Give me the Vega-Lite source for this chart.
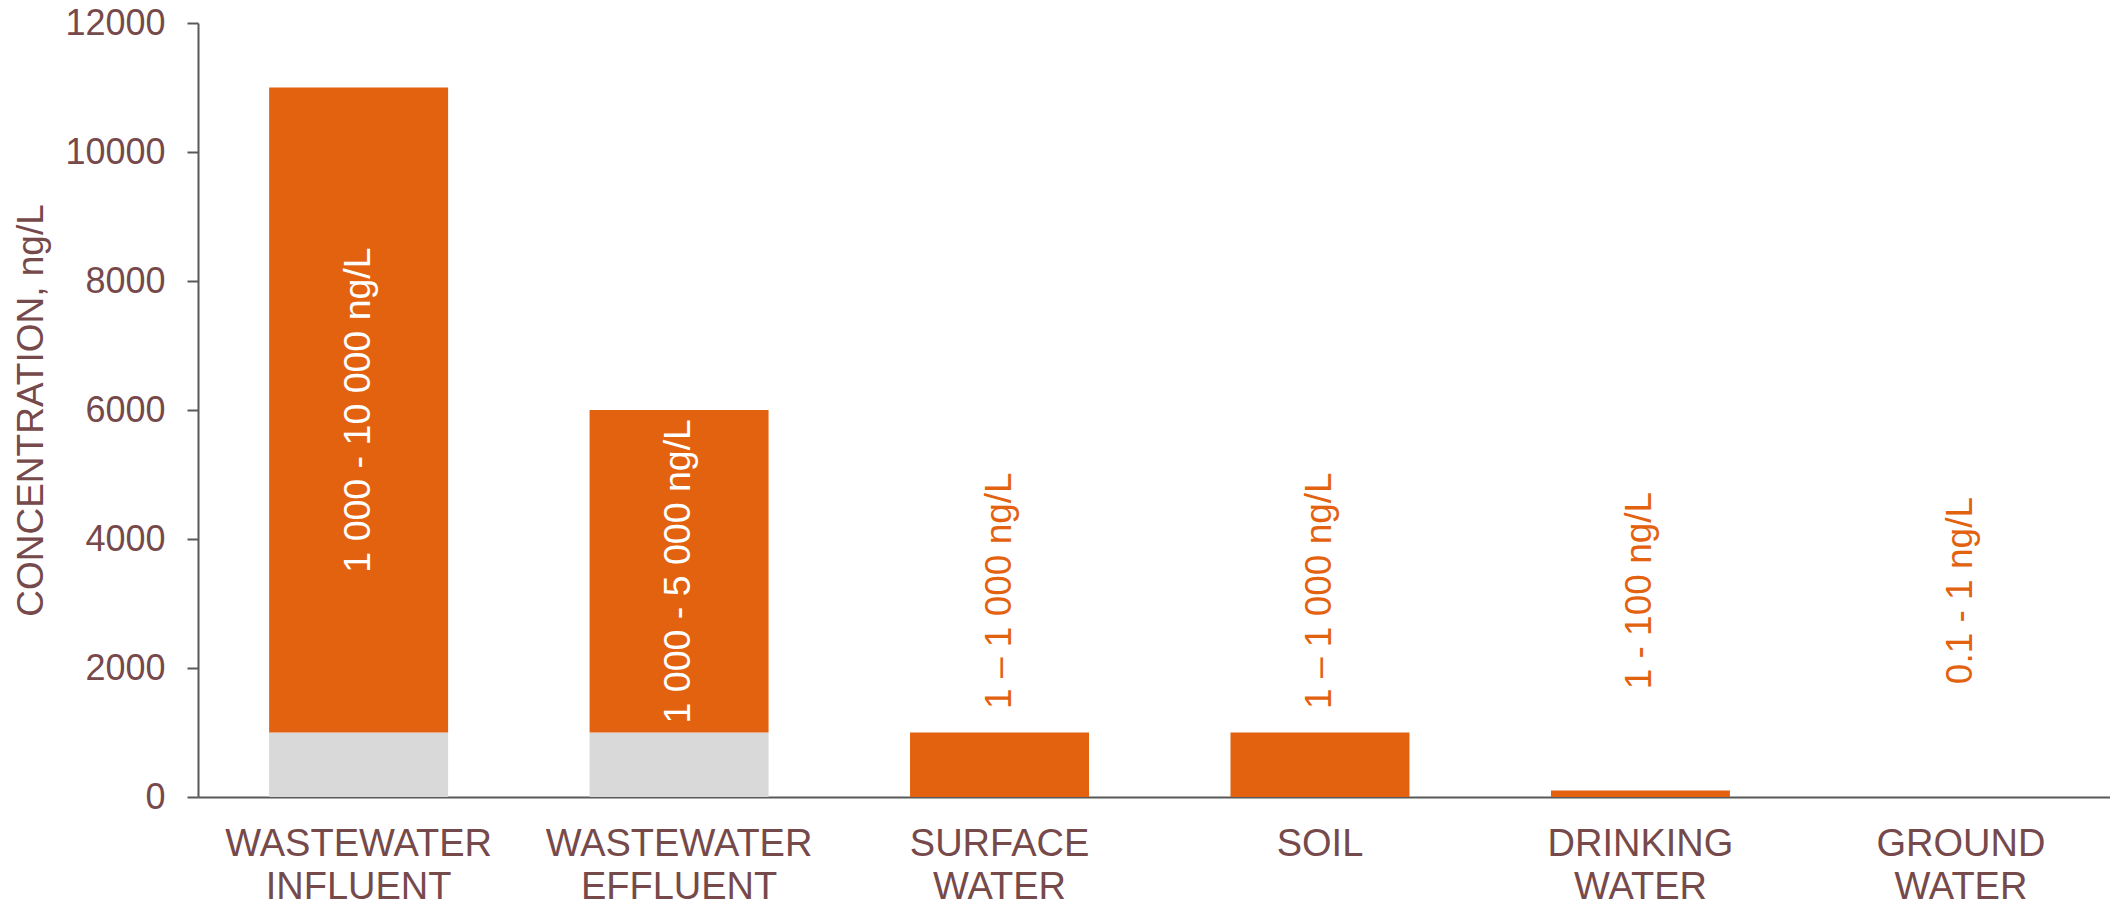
{
  "$schema": "https://vega.github.io/schema/vega-lite/v6.json",
  "width": 1912,
  "height": 774,
  "autosize": {"type": "none"},
  "padding": {"left": 198, "top": 23, "right": 0, "bottom": 105},
  "background": "white",
  "config": {
    "view": {"stroke": null},
    "font": "Liberation Sans"
  },
  "data": {
    "values": [
      {"medium": "WASTEWATER INFLUENT", "min": 1000, "max": 10000, "range": "1 000 - 10 000 ng/L"},
      {"medium": "WASTEWATER EFFLUENT", "min": 1000, "max": 5000, "range": "1 000 - 5 000 ng/L"},
      {"medium": "SURFACE WATER", "min": 1, "max": 1000, "range": "1 – 1 000 ng/L"},
      {"medium": "SOIL", "min": 1, "max": 1000, "range": "1 – 1 000 ng/L"},
      {"medium": "DRINKING WATER", "min": 1, "max": 100, "range": "1 - 100 ng/L"},
      {"medium": "GROUND WATER", "min": 0.1, "max": 1, "range": "0.1 - 1 ng/L"}
    ]
  },
  "transform": [
    {"fold": ["min", "max"], "as": ["part", "amount"]},
    {
      "stack": "amount",
      "groupby": ["medium"],
      "sort": [{"field": "part", "order": "descending"}],
      "as": ["lo", "hi"]
    }
  ],
  "encoding": {
    "x": {
      "field": "medium",
      "type": "nominal",
      "sort": ["WASTEWATER INFLUENT", "WASTEWATER EFFLUENT", "SURFACE WATER", "SOIL", "DRINKING WATER", "GROUND WATER"],
      "scale": {"paddingInner": 0.4415, "paddingOuter": 0.204, "align": 0.544},
      "axis": {
        "title": null,
        "labelAngle": 0,
        "labelExpr": "split(datum.label, ' ')",
        "labelFontSize": 38,
        "labelColor": "#76494B",
        "labelLineHeight": 43,
        "labelPadding": 28,
        "labelLimit": 0,
        "ticks": false,
        "tickSize": 0,
        "domainColor": "#595959",
        "domainWidth": 2
      }
    }
  },
  "layer": [
    {
      "mark": {"type": "bar"},
      "encoding": {
        "y": {
          "field": "hi",
          "type": "quantitative",
          "scale": {"domain": [0, 12000], "nice": false},
          "axis": {
            "title": "CONCENTRATION, ng/L",
            "titleFontSize": 37,
            "titleFontWeight": "normal",
            "titleColor": "#76494B",
            "titlePadding": 14,
            "values": [0, 2000, 4000, 6000, 8000, 10000, 12000],
            "format": "d",
            "labelFontSize": 36,
            "labelColor": "#76494B",
            "labelPadding": 22,
            "tickSize": 11,
            "tickWidth": 2,
            "tickColor": "#595959",
            "domainColor": "#595959",
            "domainWidth": 2,
            "grid": false
          }
        },
        "y2": {"field": "lo"},
        "color": {
          "field": "part",
          "type": "nominal",
          "scale": {"domain": ["min", "max"], "range": ["#D9D9D9", "#E36210"]},
          "legend": null
        }
      }
    },
    {
      "transform": [
        {"filter": "datum.part == 'max' && datum.amount > 2000"},
        {"calculate": "(datum.lo + datum.hi) / 2", "as": "mid"}
      ],
      "mark": {"type": "text", "angle": 270, "fontSize": 37.5, "color": "white", "align": "center", "baseline": "middle"},
      "encoding": {
        "y": {"field": "mid", "type": "quantitative"},
        "text": {"field": "range"}
      }
    },
    {
      "transform": [
        {"filter": "datum.part == 'max' && datum.amount <= 2000"}
      ],
      "mark": {"type": "text", "angle": 270, "fontSize": 37, "color": "#E36210", "align": "center", "baseline": "middle"},
      "encoding": {
        "y": {"datum": 3200, "type": "quantitative"},
        "text": {"field": "range"}
      }
    }
  ]
}
